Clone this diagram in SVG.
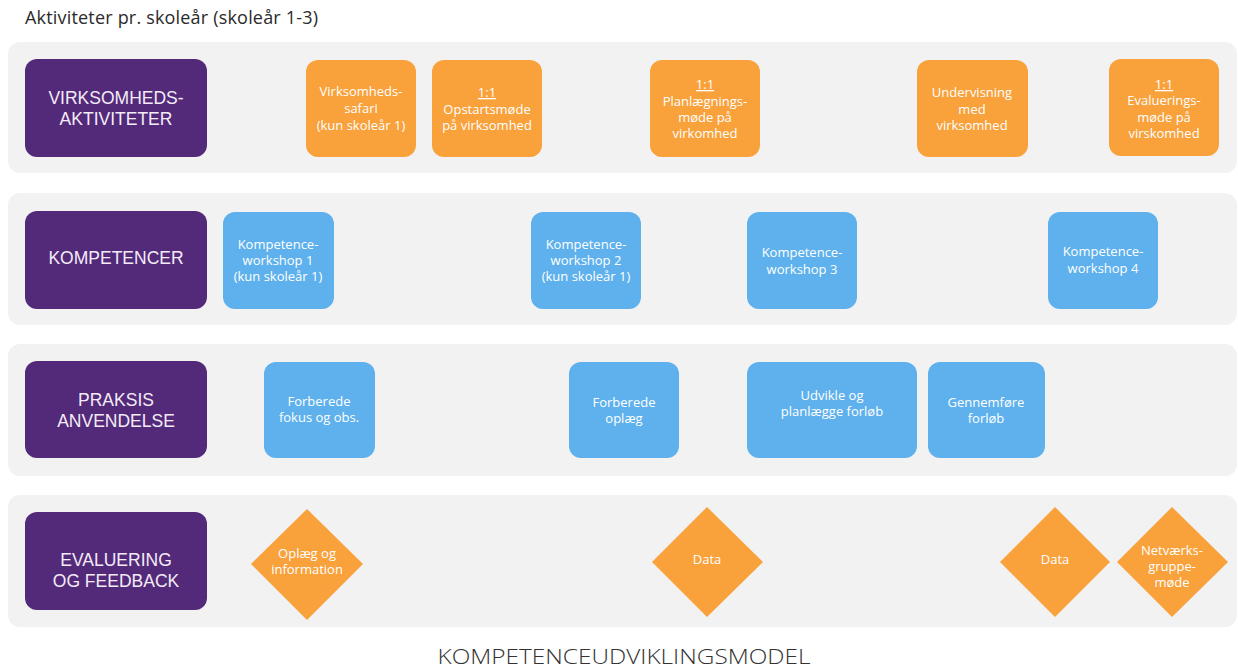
<svg xmlns="http://www.w3.org/2000/svg" width="1238" height="670" viewBox="0 0 1238 670">
<style>
.band{fill:#f3f2f2}
.cat{fill:#53297a}
.org{fill:#f9a13b}
.blu{fill:#5eb1ec}
.ct{font-family:"Liberation Sans",Arial,sans-serif;font-size:17.5px;fill:#f3ecf7;text-anchor:middle}
.nt{font-family:"Open Sans","Liberation Sans",sans-serif;font-size:13px;fill:#ffffff;text-anchor:middle}
.u{text-decoration:underline}
.hd{font-family:"Open Sans","Liberation Sans",sans-serif;font-size:18px;fill:#2a2a2a}
.ft{font-family:"Open Sans","Liberation Sans",sans-serif;font-size:21px;font-weight:300;fill:#333333;text-anchor:middle}
</style>
<text class="hd" x="25" y="24" textLength="293" lengthAdjust="spacing">Aktiviteter pr. skoleår (skoleår 1-3)</text>
<g id="bands">
<rect class="band" x="8" y="42" width="1229" height="131" rx="12"/>
<rect class="band" x="8" y="193" width="1229" height="132" rx="12"/>
<rect class="band" x="8" y="344" width="1229" height="132" rx="12"/>
<rect class="band" x="8" y="495" width="1229" height="132" rx="12"/>
</g>
<g id="cat-virksomhed"><rect class="cat" x="25" y="59" width="182" height="98" rx="12"/><text class="ct" x="116" y="104">VIRKSOMHEDS-</text><text class="ct" x="116" y="125">AKTIVITETER</text></g>
<g id="cat-kompetencer"><rect class="cat" x="25" y="211" width="182" height="98" rx="12"/><text class="ct" x="116" y="264">KOMPETENCER</text></g>
<g id="cat-praksis"><rect class="cat" x="25" y="361" width="182" height="97" rx="12"/><text class="ct" x="116" y="406">PRAKSIS</text><text class="ct" x="116" y="427">ANVENDELSE</text></g>
<g id="cat-evaluering"><rect class="cat" x="25" y="512" width="182" height="98" rx="12"/><text class="ct" x="116" y="566">EVALUERING</text><text class="ct" x="116" y="587">OG FEEDBACK</text></g>

<g id="n-safari"><rect class="org" x="306" y="60" width="110" height="97" rx="12"/><text class="nt" x="361" y="96">Virksomheds-</text><text class="nt" x="361" y="113">safari</text><text class="nt" x="361" y="130">(kun skoleår 1)</text></g>
<g id="n-opstart"><rect class="org" x="432" y="60" width="110" height="97" rx="12"/><text class="nt u" x="487" y="97">1:1</text><text class="nt" x="487" y="114">Opstartsmøde</text><text class="nt" x="487" y="130">på virksomhed</text></g>
<g id="n-planlaeg"><rect class="org" x="650" y="60" width="110" height="97" rx="12"/><text class="nt u" x="705" y="89">1:1</text><text class="nt" x="705" y="106">Planlægnings-</text><text class="nt" x="705" y="122">møde på</text><text class="nt" x="705" y="138">virkomhed</text></g>
<g id="n-undervisning"><rect class="org" x="917" y="60" width="111" height="97" rx="12"/><text class="nt" x="972" y="97">Undervisning</text><text class="nt" x="972" y="114">med</text><text class="nt" x="972" y="130">virksomhed</text></g>
<g id="n-evaluering"><rect class="org" x="1109" y="59" width="110" height="97" rx="12"/><text class="nt u" x="1164" y="89">1:1</text><text class="nt" x="1164" y="105">Evaluerings-</text><text class="nt" x="1164" y="122">møde på</text><text class="nt" x="1164" y="138">virskomhed</text></g>

<g id="n-kw1"><rect class="blu" x="223" y="212" width="111" height="97" rx="12"/><text class="nt" x="278" y="249">Kompetence-</text><text class="nt" x="278" y="265">workshop 1</text><text class="nt" x="278" y="281">(kun skoleår 1)</text></g>
<g id="n-kw2"><rect class="blu" x="531" y="212" width="110" height="97" rx="12"/><text class="nt" x="586" y="249">Kompetence-</text><text class="nt" x="586" y="265">workshop 2</text><text class="nt" x="586" y="281">(kun skoleår 1)</text></g>
<g id="n-kw3"><rect class="blu" x="747" y="212" width="110" height="97" rx="12"/><text class="nt" x="802" y="257">Kompetence-</text><text class="nt" x="802" y="274">workshop 3</text></g>
<g id="n-kw4"><rect class="blu" x="1048" y="212" width="110" height="97" rx="12"/><text class="nt" x="1103" y="256">Kompetence-</text><text class="nt" x="1103" y="273">workshop 4</text></g>

<g id="n-fokus"><rect class="blu" x="264" y="362" width="111" height="96" rx="12"/><text class="nt" x="319" y="406">Forberede</text><text class="nt" x="319" y="422">fokus og obs.</text></g>
<g id="n-oplaeg"><rect class="blu" x="569" y="362" width="110" height="96" rx="12"/><text class="nt" x="624" y="407">Forberede</text><text class="nt" x="624" y="423">oplæg</text></g>
<g id="n-udvikle"><rect class="blu" x="747" y="362" width="170" height="96" rx="12"/><text class="nt" x="832" y="400">Udvikle og</text><text class="nt" x="832" y="416">planlægge forløb</text></g>
<g id="n-gennemfore"><rect class="blu" x="928" y="362" width="117" height="96" rx="12"/><text class="nt" x="986" y="407">Gennemføre</text><text class="nt" x="986" y="423">forløb</text></g>

<g id="d-oplaeg"><polygon class="org" points="307,509 363,564 307,620 251,564"/><text class="nt" x="307" y="558">Oplæg og</text><text class="nt" x="307" y="574">information</text></g>
<g id="d-data1"><polygon class="org" points="707,507 763,562 707,617 652,562"/><text class="nt" x="707" y="564">Data</text></g>
<g id="d-data2"><polygon class="org" points="1055,507 1110,562 1055,617 1000,562"/><text class="nt" x="1055" y="564">Data</text></g>
<g id="d-netvaerk"><polygon class="org" points="1172,507 1228,562 1172,617 1117,562"/><text class="nt" x="1172" y="555">Netværks-</text><text class="nt" x="1172" y="571">gruppe-</text><text class="nt" x="1172" y="587">møde</text></g>

<g id="connectors"/>
<text class="ft" x="624" y="664" textLength="373" lengthAdjust="spacingAndGlyphs">KOMPETENCEUDVIKLINGSMODEL</text>
</svg>
